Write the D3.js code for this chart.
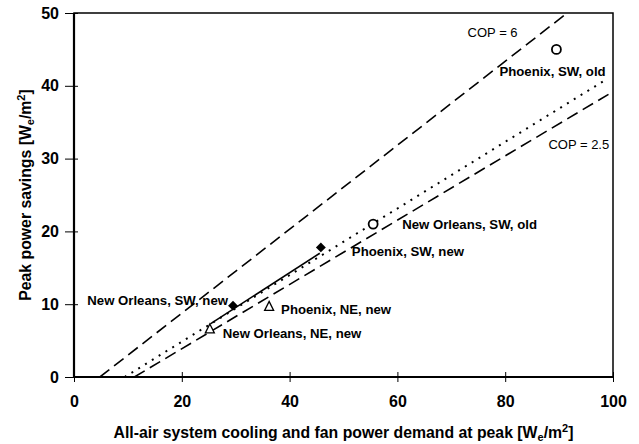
<!DOCTYPE html>
<html>
<head>
<meta charset="utf-8">
<script src="https://cdn.jsdelivr.net/npm/d3@7"></script>
<style>
  body { margin: 0; background: #fff; }
  svg { font-family: "Liberation Sans", Arial, sans-serif; }
</style>
</head>
<body>
<div id="chart"></div>
<script>
// values
const points = [
  { name: 'Phoenix, SW, old', x: 89.5, y: 45, mark: 'circle' },
  { name: 'New Orleans, SW, old', x: 55.5, y: 21, mark: 'circle' },
  { name: 'Phoenix, SW, new', x: 45.8, y: 17.8, mark: 'diamond' },
  { name: 'New Orleans, SW, new', x: 29.5, y: 9.8, mark: 'diamond' },
  { name: 'Phoenix, NE, new', x: 36.2, y: 9.7, mark: 'triangle' },
  { name: 'New Orleans, NE, new', x: 25.2, y: 6.6, mark: 'triangle' }
];
const cop6Line = [[4.8, 0], [91.5, 50]];
const cop25Line = [[11.2, 0], [100, 39.2]];
const fitLine = [[9.4, 0], [98.8, 40.9]];
const solidLine = [[25.3, 7.3], [45.6, 17.0]];
const copLabels = [
  { text: 'COP = 6', x: 82.3, y: 47.3 },
  { text: 'COP = 2.5', x: 99.3, y: 31.9 }
];
const xTicks = [0, 20, 40, 60, 80, 100];
const yTicks = [0, 10, 20, 30, 40, 50];

// label placement (pixels, relative to the marker)
const labelOffset = {
  'Phoenix, SW, old': [-57, 22, 'start'],
  'New Orleans, SW, old': [29, 0, 'start'],
  'Phoenix, SW, new': [31, 4, 'start'],
  'New Orleans, SW, new': [-5, -5, 'end'],
  'Phoenix, NE, new': [12, 3, 'start'],
  'New Orleans, NE, new': [13, 4, 'start']
};

const w = 639;
const h = 444;
const pLeft = 74, pRight = 613, pTop = 13, pBottom = 377;

const xScale = d3.scaleLinear().domain([0, 100]).range([pLeft, pRight]);
const yScale = d3.scaleLinear().domain([0, 50]).range([pBottom, pTop]);

const svg = d3.select('#chart').append('svg').attr('width', w).attr('height', h);

svg.append('defs').append('clipPath').attr('id', 'plot')
  .append('rect').attr('x', pLeft).attr('y', pTop).attr('width', pRight - pLeft).attr('height', pBottom - pTop);

// frame
svg.append('rect').attr('x', pLeft).attr('y', pTop).attr('width', pRight - pLeft).attr('height', pBottom - pTop)
  .attr('fill', 'none').attr('stroke', '#000').attr('stroke-width', 1.5);
svg.append('line').attr('x1', pLeft).attr('x2', pLeft).attr('y1', pTop).attr('y2', pBottom)
  .attr('stroke', '#000').attr('stroke-width', 2.2);
svg.append('line').attr('x1', pLeft).attr('x2', pRight).attr('y1', pBottom).attr('y2', pBottom)
  .attr('stroke', '#000').attr('stroke-width', 2.2);

// axes
const xAxis = d3.axisBottom(xScale).tickValues(xTicks).tickSize(5).tickPadding(14).tickFormat(d3.format('d'));
const gx = svg.append('g').attr('transform', 'translate(0,' + pBottom + ')').call(xAxis);
gx.select('.domain').remove();
gx.selectAll('.tick line').attr('y1', -5).attr('y2', 5).attr('stroke-width', 1);
gx.selectAll('.tick text').attr('font-size', 16).attr('font-weight', 'bold').attr('fill', '#000')
  .attr('font-family', '"Liberation Sans", Arial, sans-serif');

const yAxis = d3.axisLeft(yScale).tickValues(yTicks).tickSize(9).tickPadding(6).tickFormat(d3.format('d'));
const gy = svg.append('g').attr('transform', 'translate(' + pLeft + ',0)').call(yAxis);
gy.select('.domain').remove();
gy.selectAll('.tick line').attr('x1', -9).attr('x2', 4).attr('stroke-width', 1);
gy.selectAll('.tick text').attr('font-size', 16).attr('font-weight', 'bold').attr('fill', '#000')
  .attr('font-family', '"Liberation Sans", Arial, sans-serif');

// lines
const line = d3.line().x(d => xScale(d[0])).y(d => yScale(d[1]));
const plot = svg.append('g').attr('clip-path', 'url(#plot)');
plot.append('path').attr('d', line(cop6Line)).attr('fill', 'none').attr('stroke', '#000')
  .attr('stroke-width', 1.6).attr('stroke-dasharray', '12,6');
plot.append('path').attr('d', line(cop25Line)).attr('fill', 'none').attr('stroke', '#000')
  .attr('stroke-width', 1.6).attr('stroke-dasharray', '12,6');
plot.append('path').attr('d', line(fitLine)).attr('fill', 'none').attr('stroke', '#000')
  .attr('stroke-width', 2).attr('stroke-dasharray', '2,6');
plot.append('path').attr('d', line(solidLine)).attr('fill', 'none').attr('stroke', '#000')
  .attr('stroke-width', 1.6);

// markers
const marks = svg.append('g');
points.forEach(p => {
  const px = xScale(p.x), py = yScale(p.y);
  if (p.mark === 'circle') {
    marks.append('circle').attr('cx', px).attr('cy', py).attr('r', 4.5)
      .attr('fill', '#fff').attr('stroke', '#000').attr('stroke-width', 1.8);
  } else if (p.mark === 'diamond') {
    marks.append('path').attr('transform', 'translate(' + px + ',' + py + ') rotate(45)')
      .attr('d', 'M-3.5,-3.5H3.5V3.5H-3.5Z').attr('fill', '#000');
  } else {
    marks.append('path').attr('transform', 'translate(' + px + ',' + py + ')')
      .attr('d', 'M0,-5L4.5,4L-4.5,4Z').attr('fill', '#fff').attr('stroke', '#000').attr('stroke-width', 1.3);
  }
  const o = labelOffset[p.name];
  marks.append('text').attr('x', px + o[0]).attr('y', py + o[1]).attr('dy', '0.35em')
    .attr('text-anchor', o[2]).attr('font-size', 13.2).attr('font-weight', 'bold').text(p.name);
});

copLabels.forEach(c => {
  svg.append('text').attr('x', xScale(c.x)).attr('y', yScale(c.y)).attr('dy', '0.35em')
    .attr('text-anchor', 'end').attr('font-size', 13).text(c.text);
});

// axis titles
const xt = svg.append('text').attr('x', (pLeft + pRight) / 2 + 0).attr('y', 438)
  .attr('text-anchor', 'middle').attr('font-size', 15.8).attr('font-weight', 'bold');
xt.append('tspan').text('All-air system cooling and fan power demand at peak [W');
xt.append('tspan').attr('font-size', 11).attr('dy', 3).text('e');
xt.append('tspan').attr('dy', -3).text('/m');
xt.append('tspan').attr('font-size', 11).attr('dy', -6).text('2');
xt.append('tspan').attr('dy', 6).text(']');

const yt = svg.append('text').attr('transform', 'translate(31,' + ((pTop + pBottom) / 2) + ') rotate(-90)')
  .attr('text-anchor', 'middle').attr('font-size', 15.8).attr('font-weight', 'bold');
yt.append('tspan').text('Peak power savings [W');
yt.append('tspan').attr('font-size', 11).attr('dy', 3).text('e');
yt.append('tspan').attr('dy', -3).text('/m');
yt.append('tspan').attr('font-size', 11).attr('dy', -6).text('2');
yt.append('tspan').attr('dy', 6).text(']');
</script>
</body>
</html>
